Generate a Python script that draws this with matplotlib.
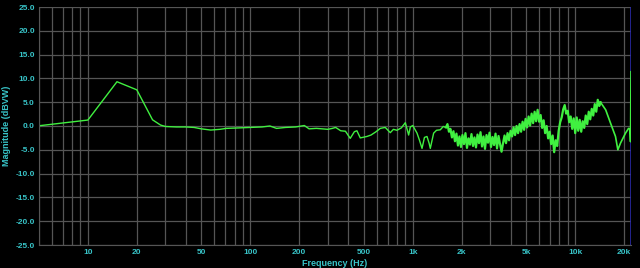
import matplotlib
matplotlib.use("Agg")
import matplotlib.pyplot as plt
from matplotlib.ticker import LogLocator, FixedLocator, NullFormatter

# low / mid band of the sweep (Hz, dB)
low_freq = [5, 10, 15.1, 20, 25, 28, 30, 35, 40, 45,
            50, 57, 65, 71, 85, 100, 118, 132, 145, 165,
            190, 215, 230, 255, 277, 300, 320, 335, 360, 385,
            412, 437, 453, 475, 522, 553, 594, 631, 677, 727,
            760, 799, 850, 900, 943, 966, 1000, 1062, 1100, 1140,
            1180, 1223, 1260, 1282, 1344, 1400, 1477, 1540, 1600]
low_mag = [0.05, 1.25, 9.3, 7.6, 1.3, 0.2, -0.1, -0.2, -0.2, -0.3,
           -0.6, -0.85, -0.7, -0.5, -0.4, -0.3, -0.2, 0.0, -0.5, -0.3,
           -0.2, 0.1, -0.6, -0.5, -0.6, -0.7, -0.5, -0.3, -1.0, -1.1,
           -2.6, -1.2, -1.0, -2.5, -2.2, -1.9, -1.2, -0.5, -0.3, -1.4,
           -0.7, -0.9, -0.4, 0.7, -1.9, -0.2, 0.1, -1.5, -3.0, -4.7,
           -2.4, -2.2, -3.6, -4.7, -1.5, -0.9, -0.8, -0.1, -0.3]

# noisy high band (Hz, dB)
high_freq = [1600, 1635, 1670, 1705, 1742, 1780, 1818, 1857, 1897, 1938,
             1980, 2022, 2066, 2110, 2156, 2202, 2250, 2298, 2348, 2398,
             2450, 2503, 2557, 2612, 2668, 2725, 2784, 2844, 2905, 2968,
             3032, 3097, 3164, 3232, 3301, 3372, 3445, 3519, 3595, 3672,
             3751, 3832, 3915, 3999, 4085, 4173, 4263, 4355, 4449, 4545,
             4643, 4743, 4845, 4949, 5056, 5165, 5276, 5390, 5506, 5624,
             5745, 5869, 5996, 6125, 6257, 6391, 6529, 6670, 6813, 6960,
             7110, 7263, 7420, 7580, 7743, 7910, 8080, 8254, 8432, 8614,
             8799, 8989, 9182, 9380, 9582, 9788, 9999, 10214, 10434, 10659,
             10888, 11123, 11362, 11607, 11857, 12112, 12373, 12640, 12912, 13190,
             13474, 13764, 14060, 14300]
high_mag = [-0.3, 0.4, -1.2, -0.6, -2.4, -1.1, -3.2, -1.6, -4.1, -2.2,
            -4.4, -1.9, -3.8, -1.5, -4.6, -2.6, -3.9, -1.7, -4.2, -2.4,
            -4.5, -1.8, -3.6, -1.3, -4.3, -2.2, -4.8, -1.9, -3.5, -1.4,
            -4.4, -2.3, -4.0, -1.6, -4.7, -2.1, -3.8, -5.4, -3.6, -2.0,
            -3.6, -1.5, -3.0, -1.0, -2.2, -0.3, -1.9, 0.0, -1.5, 0.4,
            -1.2, 0.9, -0.8, 1.5, -0.3, 2.0, 0.1, 2.6, 0.6, 3.0,
            1.0, 3.4, 0.9, 2.3, -0.4, 1.2, -1.5, 0.0, -2.6, -1.2,
            -3.8, -2.0, -5.5, -3.0, -4.2, -1.0, 0.8, 1.8, 3.5, 4.4,
            2.6, 3.2, 0.8, 2.0, -0.6, 1.6, -1.5, 1.8, -1.0, 1.3,
            -1.2, 1.0, -0.4, 2.2, 0.4, 3.0, 1.4, 3.6, 2.2, 4.6,
            3.0, 5.5, 4.2, 5.0]

# clean tail up to Nyquist
tail_freq = [14300, 15400, 16500, 17700, 18300, 19000, 20400, 21300, 21700, 21900, 22050]
tail_mag = [5.0, 3.4, 0.6, -2.2, -5.0, -3.6, -1.5, -0.5, -0.6, -3.3, 11.4]

x_ticks = [10, 20, 50, 100, 200, 500, 1000, 2000, 5000, 10000, 20000]
x_tick_labels = ["10", "20", "50", "100", "200", "500", "1k", "2k", "5k", "10k", "20k"]
y_ticks = [-25, -20, -15, -10, -5, 0, 5, 10, 15, 20, 25]

plt.rcParams['font.family'] = ['Liberation Sans', 'DejaVu Sans']
label_color = '#38c4c8'
grid_color = '#555555'
line_color = '#40f040'

fig = plt.figure(figsize=(6.4, 2.68), dpi=100, facecolor='black')
ax = fig.add_axes([39 / 640, 1 - 245 / 268, 592 / 640, 238 / 268])
ax.set_facecolor('black')

ax.set_xscale('log')
ax.set_xlim(5, 22050)
ax.set_ylim(-25, 25)

ax.xaxis.set_major_locator(FixedLocator(x_ticks))
ax.set_xticklabels(x_tick_labels)
ax.xaxis.set_minor_locator(LogLocator(base=10, subs=range(1, 10), numticks=20))
ax.xaxis.set_minor_formatter(NullFormatter())
ax.set_yticks(y_ticks)
ax.set_yticklabels([f"{v:.1f}" for v in y_ticks])

ax.grid(True, which='both', axis='x', color=grid_color, linewidth=0.9)
ax.grid(True, which='major', axis='y', color=grid_color, linewidth=0.9)
ax.tick_params(which='both', length=0, colors=label_color, labelsize=6, pad=3)
for lbl in ax.get_xticklabels() + ax.get_yticklabels():
    lbl.set_fontweight('bold')

for s in ax.spines.values():
    s.set_visible(False)
ax.spines['left'].set_visible(True)
ax.spines['left'].set_color(grid_color)
ax.spines['bottom'].set_visible(True)
ax.spines['bottom'].set_color(grid_color)

# marker at the right edge
ax.axvline(22050, color='#2a2aa8', linewidth=1.2)

ax.plot(low_freq, low_mag, color=line_color, linewidth=1.0)
ax.plot(high_freq, high_mag, color=line_color, linewidth=1.6)
ax.plot(tail_freq, tail_mag, color=line_color, linewidth=1.2)

ax.set_xlabel("Frequency (Hz)", color=label_color, fontsize=6.5, fontweight='bold', labelpad=2)
ax.set_ylabel("Magnitude (dBVW)", color=label_color, fontsize=6.5, fontweight='bold', labelpad=3)

fig.savefig("out.png", dpi=100, facecolor='black')
